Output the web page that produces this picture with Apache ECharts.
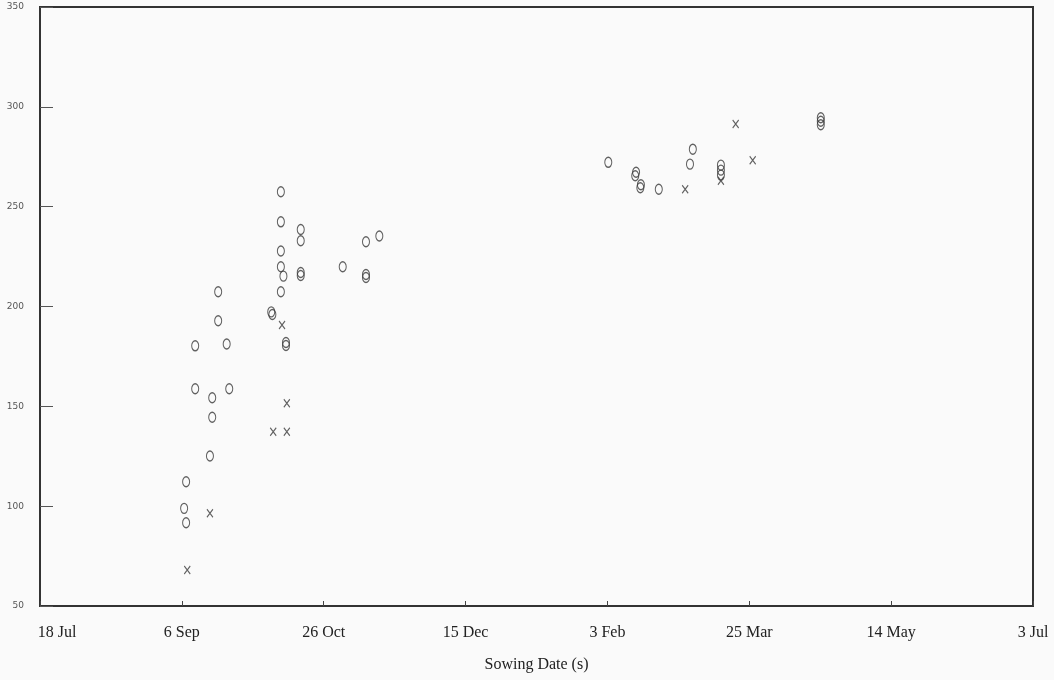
<!DOCTYPE html>
<html>
<head>
<meta charset="utf-8">
<script src="https://cdn.jsdelivr.net/npm/echarts@6/dist/echarts.min.js"></script>
<style>
html,body{margin:0;padding:0;background:#fafafa;}
#chart{width:1054px;height:680px;}
</style>
</head>
<body>
<div id="chart"></div>
<script>
// x values are days after 18 Jul
const tickDays = [0, 50, 100, 150, 200, 250, 300, 350];
const tickLabels = ['18 Jul', '6 Sep', '26 Oct', '15 Dec', '3 Feb', '25 Mar', '14 May', '3 Jul'];
const yTicks = [50, 100, 150, 200, 250, 300, 350];

const circleDays = [84.9, 84.9, 91.9, 91.9, 114.9, 119.6, 84.9, 84.9, 85.8, 91.9, 91.9, 106.7, 114.9, 114.9,
  62.8, 84.9, 81.5, 81.9, 62.8, 54.7, 65.8, 86.7, 86.7, 54.7, 60.7, 66.7, 60.7, 59.9, 51.5, 50.8, 51.5,
  200.3, 210.1, 209.8, 211.8, 211.6, 218.1, 230.1, 229.1, 240.0, 240.0, 240.0, 275.2, 275.2, 275.2];
const circleVals = [257.5, 242.4, 238.6, 232.9, 232.4, 235.3, 227.8, 219.9, 215.2, 217.0, 215.5, 219.9, 216.0, 214.5,
  207.4, 207.4, 197.3, 196.0, 192.9, 180.3, 181.2, 182.0, 180.5, 158.8, 154.3, 158.8, 144.5, 125.1, 112.2, 98.9, 91.7,
  272.2, 267.2, 265.5, 261.0, 259.5, 258.7, 278.8, 271.3, 270.8, 268.3, 265.8, 294.5, 292.8, 291.0];

const crossDays = [85.3, 87.0, 82.2, 87.0, 59.9, 51.9, 227.4, 240.0, 245.2, 251.2];
const crossVals = [190.7, 151.5, 137.3, 137.3, 96.4, 68.0, 258.7, 263.0, 291.4, 273.3];

const circleData = circleDays.map((d, i) => [d, circleVals[i]]);
const crossData = crossDays.map((d, i) => [d, crossVals[i]]);

const ellipsePath = 'path://M5,0C7.76,0 10,2.69 10,6C10,9.31 7.76,12 5,12C2.24,12 0,9.31 0,6C0,2.69 2.24,0 5,0Z';
const crossPath = 'path://M0,0L10,12M10,0L0,12';

const chart = echarts.init(document.getElementById('chart'), null, {renderer: 'canvas'});
chart.setOption({
  backgroundColor: '#fafafa',
  animation: false,
  grid: {left: 40, right: 21, top: 7, bottom: 74, show: true, borderColor: '#333', borderWidth: 2, backgroundColor: 'transparent'},
  xAxis: {
    type: 'value', min: 0, max: 350, interval: 50,
    name: 'Sowing Date (s)', nameLocation: 'middle', nameGap: 51,
    nameTextStyle: {fontFamily: 'Liberation Serif', fontSize: 16, color: '#222'},
    axisLine: {show: true, lineStyle: {color: '#333', width: 2}},
    axisTick: {show: true, inside: true, length: 5, lineStyle: {color: '#444', width: 1}},
    splitLine: {show: false},
    axisLabel: {
      margin: 19, fontFamily: 'Liberation Serif', fontSize: 16, color: '#222',
      showMinLabel: true, showMaxLabel: true,
      formatter: function (v) {
        const i = tickDays.indexOf(Math.round(v));
        if (i < 0) return '';
        if (i === 0) return '{first|' + tickLabels[i] + '}';
        return tickLabels[i];
      },
      rich: {first: {fontFamily: 'Liberation Serif', fontSize: 16, color: '#222', padding: [0, 0, 0, 34]}}
    }
  },
  yAxis: {
    type: 'value', min: 50, max: 350, interval: 50,
    axisLine: {show: true, lineStyle: {color: '#333', width: 2}},
    axisTick: {show: true, inside: true, length: 13, lineStyle: {color: '#555', width: 1}},
    splitLine: {show: false},
    axisLabel: {margin: 16, fontFamily: 'DejaVu Sans', fontSize: 9, color: '#555',
      formatter: function (v) { return yTicks.indexOf(v) >= 0 ? String(v) : ''; }}
  },
  series: [
    {
      type: 'scatter', name: 'O', data: circleData,
      symbol: ellipsePath, symbolSize: [7, 10],
      itemStyle: {color: 'rgba(0,0,0,0)', borderColor: '#3a3a3a', borderWidth: 1.2}
    },
    {
      type: 'scatter', name: 'x', data: crossData,
      symbol: crossPath, symbolSize: [6, 8],
      itemStyle: {color: 'rgba(0,0,0,0)', borderColor: '#3a3a3a', borderWidth: 1.2}
    }
  ]
});
</script>
</body>
</html>
